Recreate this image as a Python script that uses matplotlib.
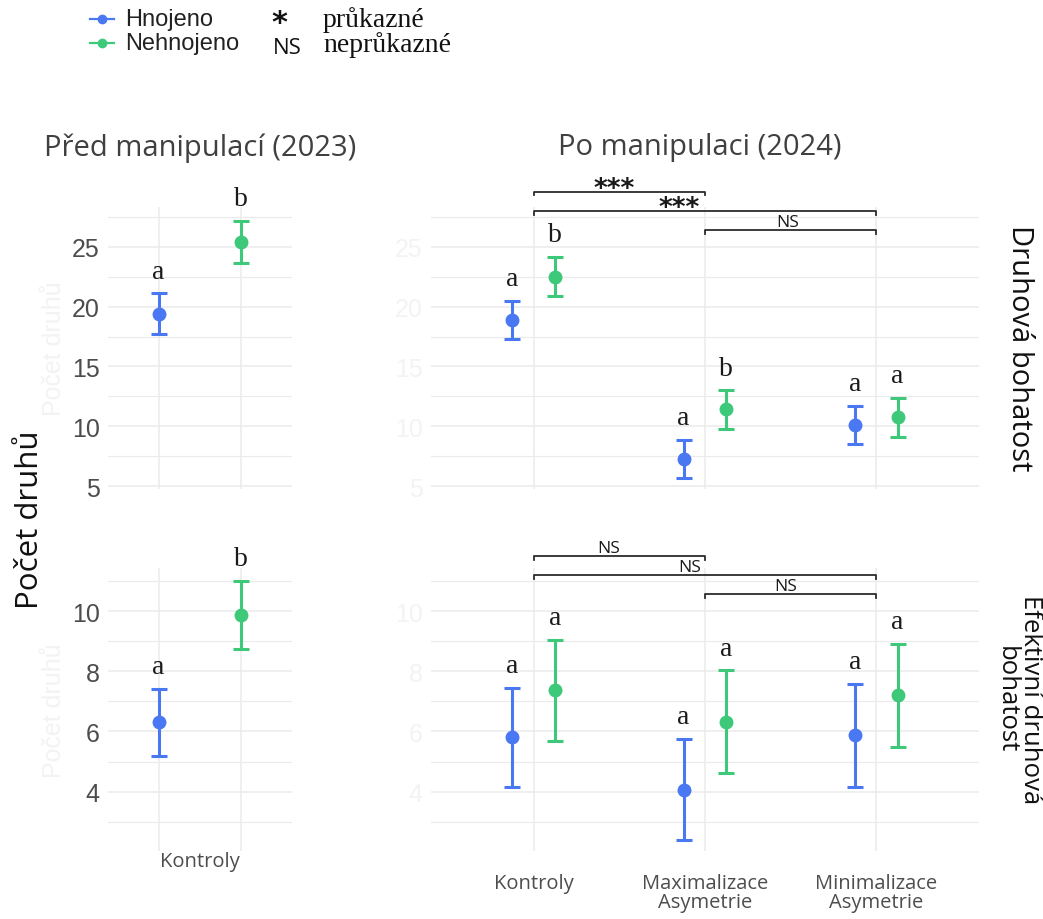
import matplotlib
matplotlib.use("Agg")
import matplotlib.pyplot as plt
from matplotlib.lines import Line2D

# --- data -------------------------------------------------------------
kategorie_2023 = ["Kontroly"]
kategorie_2024 = ["Kontroly", "Maximalizace\nAsymetrie", "Minimalizace\nAsymetrie"]

# druhová bohatost (průměr, chyba)
bohatost_2023_hn = [19.4]
bohatost_2023_hn_err = [1.7]
bohatost_2023_ne = [25.4]
bohatost_2023_ne_err = [1.75]
bohatost_2024_hn = [18.9, 7.25, 10.1]
bohatost_2024_hn_err = [1.6, 1.6, 1.6]
bohatost_2024_ne = [22.5, 11.4, 10.75]
bohatost_2024_ne_err = [1.65, 1.6, 1.65]

# efektivní druhová bohatost
efekt_2023_hn = [6.3]
efekt_2023_hn_err = [1.12]
efekt_2023_ne = [9.87]
efekt_2023_ne_err = [1.13]
efekt_2024_hn = [5.8, 4.07, 5.87]
efekt_2024_hn_err = [1.65, 1.68, 1.7]
efekt_2024_ne = [7.37, 6.33, 7.2]
efekt_2024_ne_err = [1.67, 1.7, 1.7]

# písmena (post-hoc skupiny)
pismena_bohatost_2023 = (["a"], ["b"])
pismena_bohatost_2024 = (["a", "a", "a"], ["b", "b", "a"])
pismena_efekt_2023 = (["a"], ["b"])
pismena_efekt_2024 = (["a", "a", "a"], ["a", "a", "a"])

# srovnání mezi skupinami: (od, do, výsledek, poloha textu)
srovnani_bohatost = [(1, 2, "***", 1.47), (1, 3, "***", 1.85), (2, 3, "NS", 2.48)]
srovnani_efekt = [(1, 2, "NS", 1.44), (1, 3, "NS", 1.91), (2, 3, "NS", 2.47)]

# --- vzhled -----------------------------------------------------------
MODRA = "#4a77f2"
ZELENA = "#3ec87a"
MRIZKA = "#ebebeb"
SEDA = "#4d4d4d"
SANS = "Open Sans"
ARIAL = "Liberation Sans"
SERIF = "Liberation Serif"

W, H = 1043, 920
fig = plt.figure(figsize=(W / 100, H / 100), dpi=100)


def box(x0, y0, x1, y1):
    return [x0 / W, 1 - y1 / H, (x1 - x0) / W, (y1 - y0) / H]


ax_tl = fig.add_axes(box(108, 208, 292, 490))
ax_tr = fig.add_axes(box(431, 208, 979, 490))
ax_bl = fig.add_axes(box(108, 569, 292, 852))
ax_br = fig.add_axes(box(431, 569, 979, 852))

YLIM_TOP = (4.75, 28.33)
YLIM_BOT = (2.03, 11.43)


def panel(ax, kategorie, hn, hn_err, ne, ne_err, pismena, ylim, yticks, minor,
          dodge, vlines_at_points, faint):
    x = list(range(1, len(kategorie) + 1))
    xh = [v - dodge for v in x]
    xn = [v + dodge for v in x]
    ax.set_xlim(0.4, len(kategorie) + 0.6)
    ax.set_ylim(*ylim)
    for s in ax.spines.values():
        s.set_visible(False)
    for y in yticks:
        ax.axhline(y, color=MRIZKA, lw=1.1, zorder=0)
    for y in minor:
        ax.axhline(y, color=MRIZKA, lw=0.8, zorder=0)
    for v in (xh + xn if vlines_at_points else x):
        ax.axvline(v, color=MRIZKA, lw=1.1, zorder=0)
    for xs, ys, es, col, lab in ((xh, hn, hn_err, MODRA, pismena[0]),
                                 (xn, ne, ne_err, ZELENA, pismena[1])):
        ax.errorbar(xs, ys, yerr=es, fmt="o", color=col, ms=9, lw=2.2,
                    capsize=6, capthick=2.2, zorder=3)
        for xi, yi, ei, t in zip(xs, ys, es, lab):
            ax.annotate(t, (xi, yi + ei), xytext=(0, 7), textcoords="offset points",
                        ha="center", va="bottom", fontsize=20, family=SERIF,
                        color="#1a1a1a")
    ax.set_yticks(yticks)
    ax.set_yticklabels([str(t) for t in yticks], family=ARIAL, fontsize=18,
                       color="#f3f3f3" if faint else SEDA)
    ax.tick_params(axis="y", length=0, pad=6)
    ax.set_xticks(x)
    ax.set_xticklabels(kategorie, family=SANS, fontsize=14.5, color=SEDA,
                       linespacing=0.95)
    ax.tick_params(axis="x", length=0)


def zavorky(ax, srovnani, ys, tick):
    for (a, b, t, xt), y in zip(srovnani, ys):
        ax.plot([a, a, b, b], [y - tick, y, y, y - tick], color="#2b2b2b",
                lw=1.3, clip_on=False, zorder=4)
        if t == "NS":
            ax.text(xt, y, t, ha="center", va="bottom", fontsize=12.5,
                    family=SANS, color="#1a1a1a", clip_on=False)
        else:
            ax.annotate(t, (xt, y), xytext=(0, -3), textcoords="offset points",
                        ha="center", va="baseline", fontsize=19,
                        fontweight="bold", family="DejaVu Sans",
                        color="#1a1a1a", annotation_clip=False)


panel(ax_tl, kategorie_2023, bohatost_2023_hn, bohatost_2023_hn_err,
      bohatost_2023_ne, bohatost_2023_ne_err, pismena_bohatost_2023,
      YLIM_TOP, [5, 10, 15, 20, 25], [7.5, 12.5, 17.5, 22.5, 27.5], 0.27, True, False)
panel(ax_tr, kategorie_2024, bohatost_2024_hn, bohatost_2024_hn_err,
      bohatost_2024_ne, bohatost_2024_ne_err, pismena_bohatost_2024,
      YLIM_TOP, [5, 10, 15, 20, 25], [7.5, 12.5, 17.5, 22.5, 27.5], 0.125, False, True)
panel(ax_bl, kategorie_2023, efekt_2023_hn, efekt_2023_hn_err,
      efekt_2023_ne, efekt_2023_ne_err, pismena_efekt_2023,
      YLIM_BOT, [4, 6, 8, 10], [3, 5, 7, 9, 11], 0.27, True, False)
panel(ax_br, kategorie_2024, efekt_2024_hn, efekt_2024_hn_err,
      efekt_2024_ne, efekt_2024_ne_err, pismena_efekt_2024,
      YLIM_BOT, [4, 6, 8, 10], [3, 5, 7, 9, 11], 0.125, False, True)

for ax in (ax_tl, ax_tr):
    ax.tick_params(axis="x", labelbottom=False)
ax_bl.tick_params(axis="x", pad=0)
ax_br.tick_params(axis="x", pad=16)

zavorky(ax_tr, srovnani_bohatost, [29.6, 28.0, 26.4], 0.3)
zavorky(ax_br, srovnani_efekt, [11.83, 11.2, 10.57], 0.12)

# vybledlé popisky os v levých panelech
for ax in (ax_tl, ax_bl):
    ax.set_ylabel("Počet druhů", family=ARIAL, fontsize=18, color="#f3f3f3",
                  labelpad=4)

# nadpisy sloupců a řádků
fig.text(200 / W, 1 - 148 / H, "Před manipulací (2023)", ha="center", va="center",
         fontsize=21, family=SANS, color="#404040")
fig.text(700 / W, 1 - 148 / H, "Po manipulaci (2024)", ha="center", va="center",
         fontsize=21, family=SANS, color="#404040")
fig.text(1020 / W, 1 - 348 / H, "Druhová bohatost", rotation=-90, ha="center",
         va="center", fontsize=21, family=SANS, color="#111111")
fig.text(1018 / W, 1 - 700 / H, "Efektivní druhová\nbohatost", rotation=-90,
         ha="center", va="center", fontsize=18.5, family=SANS, color="#111111",
         linespacing=0.95, multialignment="center")
fig.text(30 / W, 1 - 520 / H, "Počet druhů", rotation=90, ha="center",
         va="center", fontsize=22.5, family=SANS, color="#111111")

# legenda
for y, col, t in ((20, MODRA, "Hnojeno"), (44, ZELENA, "Nehnojeno")):
    fig.add_artist(Line2D([90 / W, 114 / W], [1 - y / H] * 2, color=col, lw=1.6))
    fig.add_artist(Line2D([102 / W], [1 - y / H], color=col, marker="o", ms=6,
                          lw=0))
    fig.text(125 / W, 1 - y / H, t, ha="left", va="center", fontsize=17,
             family=ARIAL, color="#222222")
fig.text(279 / W, 1 - 9 / H, "*", ha="center", va="top", fontsize=22,
         fontweight="bold", family="DejaVu Sans", color="#111111")
fig.text(287 / W, 1 - 49 / H, "NS", ha="center", va="center", fontsize=16,
         family=SANS, color="#111111")
fig.text(323 / W, 1 - 20 / H, "průkazné", ha="left", va="center", fontsize=20,
         family=SERIF, color="#111111")
fig.text(323 / W, 1 - 45 / H, "neprůkazné", ha="left", va="center", fontsize=20,
         family=SERIF, color="#111111")

fig.savefig("out.png", dpi=100, facecolor="white")
